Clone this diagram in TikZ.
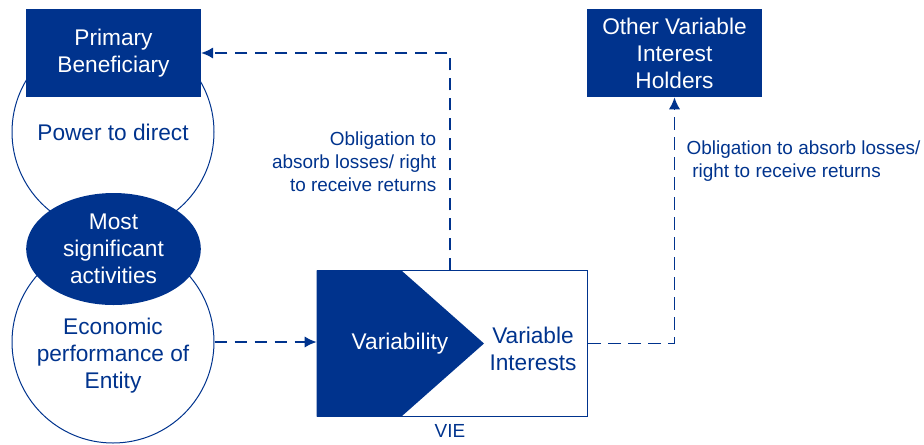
\documentclass[tikz,border=0pt]{standalone}
\usepackage{fontspec}
\setmainfont{Liberation Sans}
\usetikzlibrary{shapes.geometric, arrows.meta}
\definecolor{kblue}{RGB}{0,51,141}
\tikzset{
  bigtxt/.style={font=\fontsize{17}{20.3}\selectfont, align=center},
  smalltxt/.style={font=\fontsize{14.2}{17.2}\selectfont, text=kblue},
  bluebox/.style={fill=kblue, text=white, minimum width=131pt, minimum height=66pt, inner sep=0pt, bigtxt},
  ring/.style={circle, draw=kblue, line width=0.75pt, minimum size=151.5pt, inner sep=0pt},
  conn/.style={draw=kblue, line width=1.4pt, dash pattern=on 9.5pt off 5.5pt}
}
\begin{document}
\begin{tikzpicture}[>={Latex[length=9pt,width=8.5pt]}, x=0.75pt, y=-0.75pt]
\useasboundingbox (0,0) rectangle (924,444);
% circles
\node[ring] (pwr) at (113,132) {};
\node[ring] (econ) at (113,342) {};
\node[bigtxt, text=kblue] (pwrtxt) at (113,132) {Power to direct};
\node[bigtxt, text=kblue] (econtxt) at (113,356) {Economic\\performance of\\Entity};
% boxes on top
\node[bluebox] (prim) at (113.5,53) {Primary\\Beneficiary};
\node[ellipse, fill=kblue, text=white, minimum width=131pt, minimum height=84pt, inner sep=0pt, bigtxt] (act) at (113.5,249) {Most\\significant\\activities};
\node[bluebox] (other) at (674.5,53) {Other Variable\\Interest\\Holders};
% VIE
\node[draw=kblue, line width=0.75pt, minimum width=203pt, minimum height=109pt, inner sep=0pt] (vie) at (452.5,343.5) {};
\fill[kblue] (vie.north west) -- (402,271) -- (484,343.5) -- (402,416) -- (vie.south west) -- cycle;
\node[bigtxt, text=white] (varb) at (400,343.5) {Variability};
\node[bigtxt, text=kblue] (vint) at (533,349) {Variable\\Interests};
\node[smalltxt] (vielbl) at (450,431) {VIE};
% arrows
\coordinate (bend) at (450,53);
\draw[conn,->] (econ.east) -- (econ.east -| vie.west);
\draw[conn,->] (vie.north -| bend) -- (bend) -- (prim.east);
\draw[conn,->] (vie.east) -| (other.south);
\node[smalltxt, anchor=east, align=right] (obl1) at (441,161.5) {Obligation to\\absorb losses/ right\\to receive returns};
\node[smalltxt, anchor=west, align=left] (obl2) at (682,161.5) {Obligation to absorb losses/\\\hspace{0.3em}right to receive returns};
\end{tikzpicture}
\end{document}
